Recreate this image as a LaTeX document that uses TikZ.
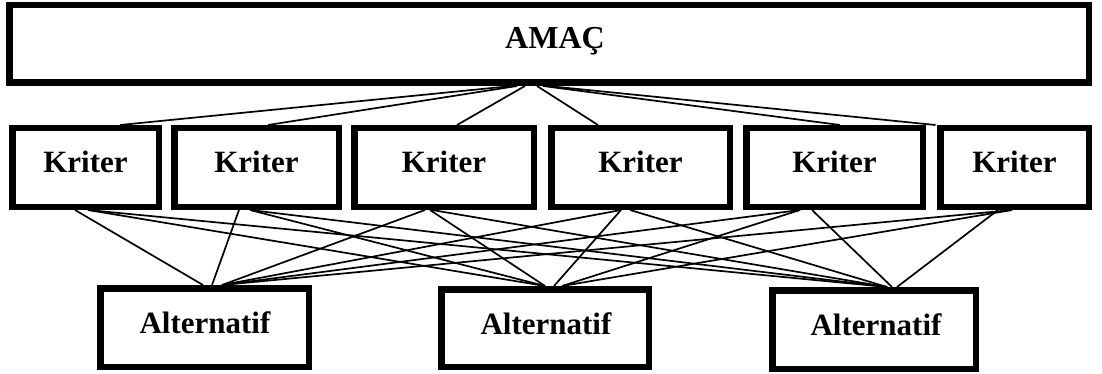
\documentclass[tikz,border=0pt]{standalone}
\usepackage{fontspec}
\setmainfont{Liberation Serif}
\usetikzlibrary{backgrounds}

\begin{document}
\begin{tikzpicture}[x=1pt, y=-1pt,
  box/.style={draw=black, line width=6.5pt, fill=none, inner sep=0pt},
  lbl/.style={font=\bfseries\fontsize{31}{31}\selectfont, anchor=base, inner sep=0pt},
  link/.style={draw=black, line width=1.7pt}]
  \useasboundingbox (0,0) rectangle (1102,374);

  % goal box
  \node[box, minimum width=1079.5pt, minimum height=77.5pt] (amac) at (549,44) {};
  \node[lbl, font=\bfseries\fontsize{32}{32}\selectfont] (amacT) at (555,49) {AMAÇ};

  % criteria row
  \node[box, minimum width=146.5pt, minimum height=78.5pt] (k1) at (85.5,167.5) {};
  \node[box, minimum width=164.5pt, minimum height=78.5pt] (k2) at (256.5,167.5) {};
  \node[box, minimum width=179.5pt, minimum height=78.5pt] (k3) at (444,167.5) {};
  \node[box, minimum width=178.5pt, minimum height=78.5pt] (k4) at (640.5,167.5) {};
  \node[box, minimum width=176.5pt, minimum height=78.5pt] (k5) at (834.5,167.5) {};
  \node[box, minimum width=148.5pt, minimum height=78.5pt] (k6) at (1014.5,167.5) {};
  \foreach \k/\x in {k1/85.5, k2/256.5, k3/444, k4/640.5, k5/834.5, k6/1014.5}
    \node[lbl] (\k T) at (\x,173) {Kriter};

  % alternatives row
  \node[box, minimum width=208.5pt, minimum height=78.5pt] (a1) at (204.5,327.5) {};
  \node[box, minimum width=207.5pt, minimum height=77.5pt] (a2) at (545,328) {};
  \node[box, minimum width=203.5pt, minimum height=78.5pt] (a3) at (874,329.5) {};
  \node[lbl] (a1T) at (205,333) {Alternatif};
  \node[lbl] (a2T) at (546,334) {Alternatif};
  \node[lbl] (a3T) at (876,335) {Alternatif};

  \begin{pgfonlayer}{background}
    % goal to criteria
    \foreach \k/\s/\e in {k1/-37/34.5, k2/-32/11.5, k3/-24/13, k4/-12/-42.5, k5/-6/5.5, k6/-1/-79}
      \draw[link] ([xshift=\s pt]amac.south) -- ([xshift=\e pt]\k.north);

    % criteria to alternatives
    \foreach \k/\a/\s/\e in {
      k1/a1/-10.5/-1.5, k1/a2/2.5/0, k1/a3/2.5/13,
      k2/a1/-17.5/7.5, k2/a2/-6.5/0, k2/a3/-6.5/13,
      k3/a1/-19/17.5, k3/a2/-14/0, k3/a3/-12/13,
      k4/a1/-19.5/17.5, k4/a2/-19.5/9, k4/a3/-10.5/13,
      k5/a1/-34.5/17.5, k5/a2/-34.5/17, k5/a3/-22.5/18,
      k6/a1/-2.5/17.5, k6/a2/-2.5/17, k6/a3/-16.5/23}
      \draw[link] ([xshift=\s pt]\k.south) -- ([xshift=\e pt]\a.north);
  \end{pgfonlayer}
\end{tikzpicture}
\end{document}
